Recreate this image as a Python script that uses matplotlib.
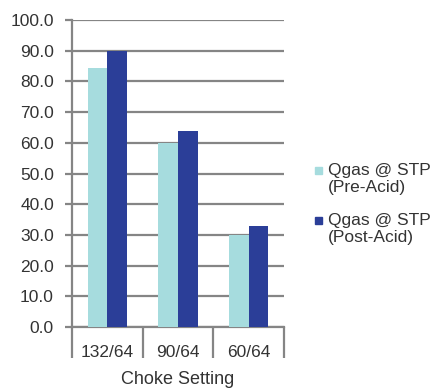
import numpy as np
import matplotlib.pyplot as plt
from matplotlib.patches import Rectangle

plt.rcParams['font.family'] = ['Liberation Sans', 'DejaVu Sans']

# data
chokes = ['132/64', '90/64', '60/64']
pre_acid = [84.5, 60.0, 30.0]
post_acid = [90.0, 64.0, 33.0]
series_names = ['Qgas @ STP\n(Pre-Acid)', 'Qgas @ STP\n(Post-Acid)']
pre_color = '#A6DCDE'
post_color = '#2B3E98'
grid_color = '#858585'
text_color = '#333333'

fig = plt.figure(figsize=(4.37, 3.90), dpi=100)
ax = fig.add_axes([72 / 437, 63 / 390, 212 / 437, 307 / 390])

x = np.arange(len(chokes))
w = 0.28
ax.bar(x - w / 2, pre_acid, w, color=pre_color, zorder=3)
ax.bar(x + w / 2, post_acid, w, color=post_color, zorder=3)

ax.set_xlim(-0.5, len(chokes) - 0.5)
ax.set_ylim(0, 100)
ax.set_yticks(np.arange(0, 101, 10))
ax.set_yticklabels([f'{v:.1f}' for v in np.arange(0, 101, 10)], fontsize=12.5, color=text_color)
ax.yaxis.grid(True, color=grid_color, linewidth=1.6, zorder=0)
ax.tick_params(axis='y', length=5, width=1.6, color=grid_color, pad=8)

# category labels between long separator ticks
ax.set_xticks(x)
ax.set_xticklabels(chokes, fontsize=12.5, color=text_color)
ax.tick_params(axis='x', which='major', length=0, pad=13)
ax.set_xticks(np.arange(-0.5, len(chokes), 1), minor=True)
ax.tick_params(axis='x', which='minor', length=22, width=1.6, color=grid_color)
ax.set_xlabel('Choke Setting', fontsize=13, color=text_color, labelpad=6)

for s in ['top', 'right']:
    ax.spines[s].set_visible(False)
for s in ['left', 'bottom']:
    ax.spines[s].set_color(grid_color)
    ax.spines[s].set_linewidth(1.6)

# legend: square next to first line of each label
for i, (name, col) in enumerate(zip(series_names, [pre_color, post_color])):
    ytop = 1 - (165 + 50 * i) / 390
    fig.patches.append(Rectangle((315 / 437, ytop - 9 / 390), 7 / 437, 7 / 390,
                                 transform=fig.transFigure, color=col, figure=fig))
    fig.text(328 / 437, ytop + 2 / 390, name, fontsize=12.5, color=text_color,
             va='top', ha='left', linespacing=1.2)

fig.savefig('out.png', dpi=100)
